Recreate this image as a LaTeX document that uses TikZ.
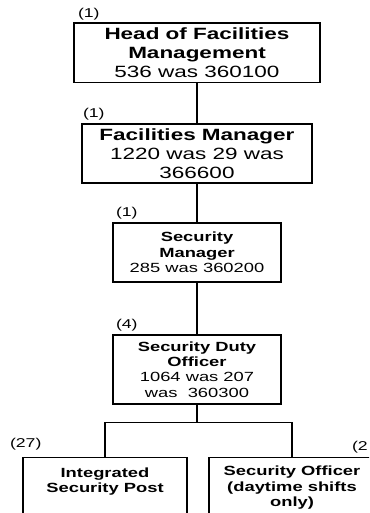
\documentclass[tikz,border=0pt]{standalone}
\usepackage{fontspec}
\setmainfont{Liberation Sans}[FakeStretch=1.38]
\usetikzlibrary{positioning}
\begin{document}
\begin{tikzpicture}[x=1pt, y=-1pt, line width=1.2pt,
post/.style={draw, align=center, inner sep=0pt},
bigpost/.style={post, font=\fontsize{16.3}{18.7}\selectfont},
smallpost/.style={post, font=\fontsize{13.3}{15.4}\selectfont},
count/.style={inner sep=0pt, font=\fontsize{12.8}{13}\selectfont}]
\useasboundingbox(0,0)rectangle(369,513);
\clip(0,0)rectangle(369,513);
\node[bigpost, minimum width=246pt, minimum height=59.3pt](head) at (197,52.7){\textbf{Head of Facilities}\\\textbf{Management}\\536 was 360100};
\node[bigpost, minimum width=230pt, minimum height=59pt](facman) at (197,153.5){\textbf{Facilities Manager}\\1220 was 29 was\\366600};
\node[smallpost, minimum width=168pt, minimum height=59pt](secman) at (197,252.5){\textbf{Security}\\\textbf{Manager}\\285 was 360200};
\node[smallpost, minimum width=168pt, minimum height=69pt](dutyoff) at (197,369.5){\textbf{Security Duty}\\\textbf{Officer}\\1064 was 207\\was\ \ 360300};
\node[smallpost, minimum width=164pt, minimum height=60pt, anchor=north](intpost) at (105,457){\textbf{Integrated}\\\textbf{Security Post}\\\mbox{}};
\node[smallpost, minimum width=166pt, minimum height=60pt, anchor=north](secoff) at (292,457){\textbf{Security Officer}\\\textbf{(daytime shifts}\\\textbf{only)}};
% head counts
\node[count, above right=2pt and 4pt of head.north west](headnum){(1)};
\node[count, above right=3pt and 1pt of facman.north west](facmannum){(1)};
\node[count, above right=3pt and 3pt of secman.north west](secmannum){(1)};
\node[count, above right=2.5pt and 3pt of dutyoff.north west](dutyoffnum){(4)};
\node[count, above right=6pt and -13pt of intpost.north west](intpostnum){(27)};
\node[count, above right=3.5pt and 143pt of secoff.north west](secoffnum){(2};
% reporting lines
\draw(head)--(facman);
\draw(facman)--(secman);
\draw(secman)--(dutyoff);
\draw(dutyoff.south)--++(0,17.5)coordinate(split);
\draw(intpost.north)|-(split)-|(secoff.north);
\end{tikzpicture}
\end{document}
